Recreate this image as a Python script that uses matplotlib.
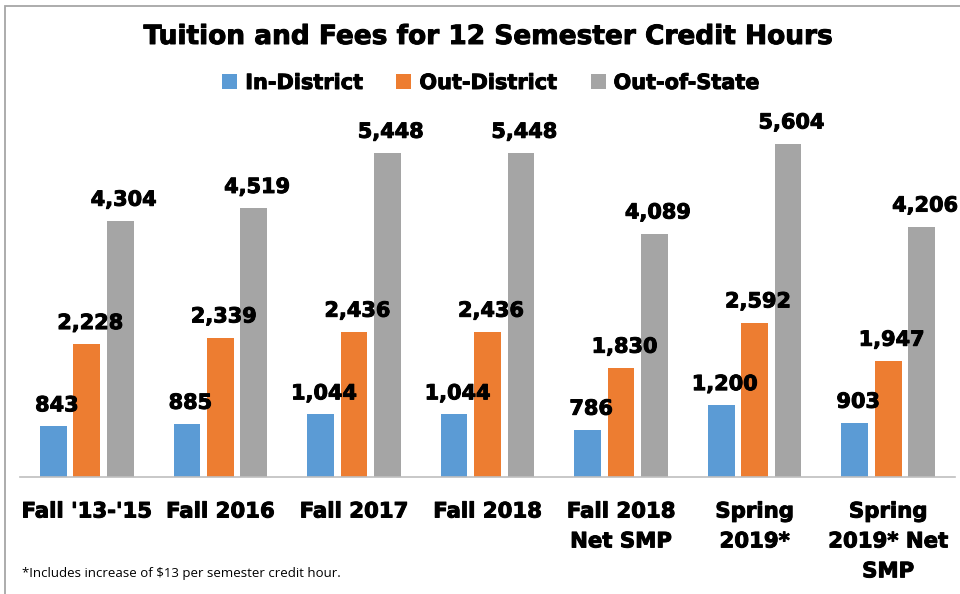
import matplotlib
matplotlib.use('Agg')
import matplotlib.pyplot as plt
import matplotlib.patheffects as pe
import numpy as np

#---    Data
categories = ["Fall '13-'15", "Fall 2016", "Fall 2017", "Fall 2018",
              "Fall 2018\nNet SMP", "Spring\n2019*", "Spring\n2019* Net\nSMP"]
in_district = [843, 885, 1044, 1044, 786, 1200, 903]
out_district = [2228, 2339, 2436, 2436, 1830, 2592, 1947]
out_of_state = [4304, 4519, 5448, 5448, 4089, 5604, 4206]
series_names = ['In-District', 'Out-District', 'Out-of-State']
colors = ['#5B9BD5', '#ED7D31', '#A5A5A5']

fs_title = 19
fs_others = 15
heavy = [pe.withStroke(linewidth=0.7, foreground='black')]

W, H = 960, 594
fig = plt.figure(figsize=(W / 100, H / 100), dpi=100)

# chart frame (only top and left edges fall inside the image)
fig.patches.append(plt.Rectangle((5 / W, -0.1), 1.0, (H - 6) / H + 0.1,
                                 transform=fig.transFigure, fill=False,
                                 edgecolor='#A6A6A6', linewidth=1.3))

ax = fig.add_axes([20 / W, (H - 476.5) / H, 935 / W, 356.4 / H])
x = np.arange(len(categories))
width = 0.2
offset = 0.25

for k, (vals, name, col) in enumerate(zip([in_district, out_district, out_of_state], series_names, colors)):
    pos = x + (k - 1) * offset
    ax.bar(pos, vals, width, color=col, label=name, zorder=2)
    for p, v in zip(pos, vals):
        ax.annotate(f'{v:,}', (p, v), xytext=(2.5, 8), textcoords='offset points',
                    ha='center', va='bottom', fontsize=fs_others, weight='bold',
                    path_effects=heavy)

ax.set_xlim(-0.5, len(categories) - 0.5)
ax.set_ylim(0, 6000)
ax.set_yticks([])
ax.set_xticks(x)
ax.set_xticklabels(categories, fontsize=15.3, weight='bold', linespacing=1.62, va='top',
                   path_effects=heavy)
ax.tick_params(axis='x', length=0, pad=18)
for s in ['top', 'right', 'left']:
    ax.spines[s].set_visible(False)
ax.spines['bottom'].set_color('#BFBFBF')
ax.spines['bottom'].set_linewidth(1.2)

fig.text(488 / W, 1 - 37 / H, 'Tuition and Fees for 12 Semester Credit Hours',
         ha='center', va='center', fontsize=fs_title, weight='bold', path_effects=heavy)
leg = fig.legend(loc='center', bbox_to_anchor=(491 / W, 1 - 83 / H), ncol=3, frameon=False,
                 prop={'weight': 'bold', 'size': fs_others},
                 handlelength=0.72, handleheight=0.72, handletextpad=0.38, columnspacing=1.6)
for t in leg.get_texts():
    t.set_path_effects(heavy)

fig.text(22 / W, 1 - 573 / H, '*Includes increase of $13 per semester credit hour.',
         ha='left', va='center', fontsize=9.5, family='Open Sans')

plt.savefig('out.png', dpi=100)
